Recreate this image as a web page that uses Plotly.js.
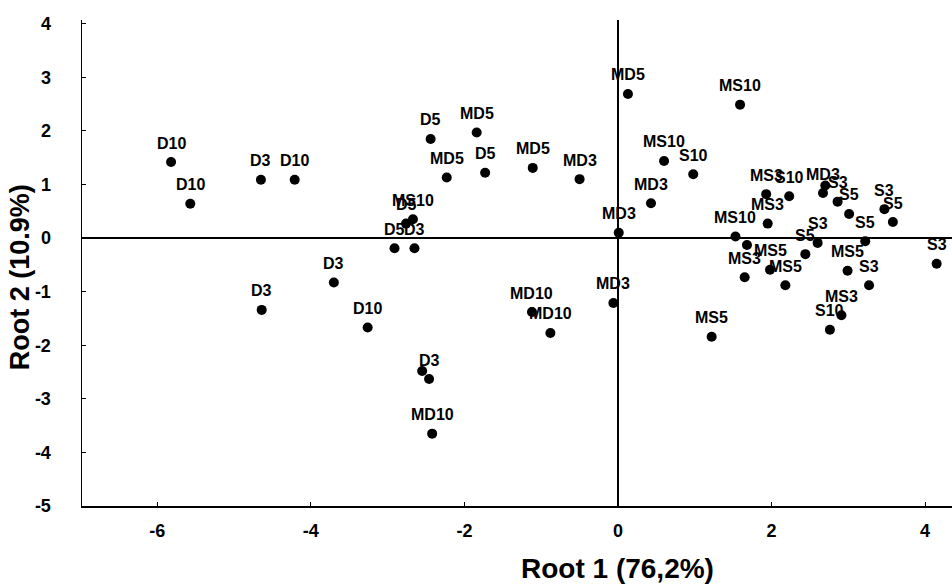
<!DOCTYPE html>
<html>
<head>
<meta charset="utf-8">
<script src="https://cdn.plot.ly/plotly-3.0.1.min.js"></script>
<style>html,body{margin:0;padding:0;background:#fff;}#chart{width:952px;height:586px;}</style>
</head>
<body>
<div id="chart"></div>
<script>
const labels = ["D10","D10","D3","D10","D3","D3","D10","","D3","MD10","MD10","MD10",
  "D5","MD5","MD5","D5","MD5","MD3","MS10","D5","D5","D3","MD3","MD3","MS10","MD5",
  "MS10","S10","MS10","MD3","MS5","MS3","S10","","MD3","S3","S5","S3","S5","MS3",
  "S5","S3","S5","","MS3","MS5","MS5","MS5","S3","MS3","S10","S3"];
const root1 = [-5.82,-5.57,-4.65,-4.21,-3.70,-4.64,-3.26,-2.55,-2.46,-2.42,-1.12,-0.88,
  -2.44,-1.84,-2.23,-1.73,-1.11,-0.50,-2.67,-2.76,-2.91,-2.65,0.01,0.43,0.60,0.13,
  1.59,0.98,1.53,-0.06,1.22,1.93,2.23,2.70,2.67,2.86,3.01,3.47,3.58,1.95,
  3.22,2.60,2.44,1.68,1.65,1.98,2.18,2.99,3.27,2.91,2.76,4.15];
const root2 = [1.42,0.64,1.09,1.09,-0.83,-1.34,-1.67,-2.48,-2.63,-3.65,-1.38,-1.77,
  1.85,1.97,1.13,1.22,1.31,1.10,0.35,0.27,-0.19,-0.19,0.10,0.65,1.44,2.69,
  2.49,1.19,0.03,-1.21,-1.84,0.82,0.78,0.98,0.84,0.68,0.45,0.54,0.30,0.27,
  -0.06,-0.09,-0.30,-0.13,-0.73,-0.59,-0.88,-0.61,-0.88,-1.44,-1.71,-0.48];
const xTicks = [-6,-4,-2,0,2,4];
const yTicks = [-5,-4,-3,-2,-1,0,1,2,3,4];
const xTitle = 'Root 1 (76,2%)';
const yTitle = 'Root 2 (10.9%)';

const FONT = 'Liberation Sans, Arial, Helvetica, sans-serif';
const trace = {
  type: 'scatter', mode: 'markers',
  x: root1, y: root2,
  marker: {size: 10, color: '#000'},
  cliponaxis: false, hoverinfo: 'none'
};
const pointLabels = labels.map((t, i) => ({
  x: root1[i], y: root2[i], xref: 'x', yref: 'y', text: t,
  showarrow: false, yshift: 19, xanchor: 'center', yanchor: 'middle',
  font: {family: FONT, size: 16, color: '#000', weight: 'bold'}
})).filter(a => a.text !== '');
const titles = [
  {text: xTitle, xref: 'paper', yref: 'paper', x: 0.615, y: -0.128, xanchor: 'center', yanchor: 'middle',
   showarrow: false, font: {family: FONT, size: 28, color: '#000', weight: 'bold'}},
  {text: yTitle, xref: 'paper', yref: 'paper', x: -0.071, y: 0.471, xanchor: 'center', yanchor: 'middle',
   textangle: -90, showarrow: false, font: {family: FONT, size: 27, color: '#000', weight: 'bold'}}
];
const tickFont = {family: FONT, size: 18, color: '#000', weight: 'bold'};
const layout = {
  width: 952, height: 586,
  margin: {l: 82, r: 0, t: 20, b: 80},
  paper_bgcolor: '#fff', plot_bgcolor: '#fff',
  showlegend: false,
  annotations: pointLabels.concat(titles),
  xaxis: {
    range: [-6.98, 4.35], tickvals: xTicks, ticktext: xTicks.map(String),
    showgrid: false, showline: true, linecolor: '#000', linewidth: 1.5,
    ticks: 'inside', ticklen: 4, tickcolor: '#000',
    zeroline: true, zerolinecolor: '#000', zerolinewidth: 1.5,
    tickfont: tickFont, ticklabelstandoff: 8
  },
  yaxis: {
    range: [-5, 4.07], tickvals: yTicks, ticktext: yTicks.map(String),
    showgrid: false, showline: true, linecolor: '#000', linewidth: 1.5,
    ticks: 'inside', ticklen: 4, tickcolor: '#000',
    zeroline: true, zerolinecolor: '#000', zerolinewidth: 1.5,
    tickfont: tickFont, ticklabelstandoff: 26
  }
};
Plotly.newPlot('chart', [trace], layout, {displayModeBar: false, staticPlot: true});
</script>
</body>
</html>
